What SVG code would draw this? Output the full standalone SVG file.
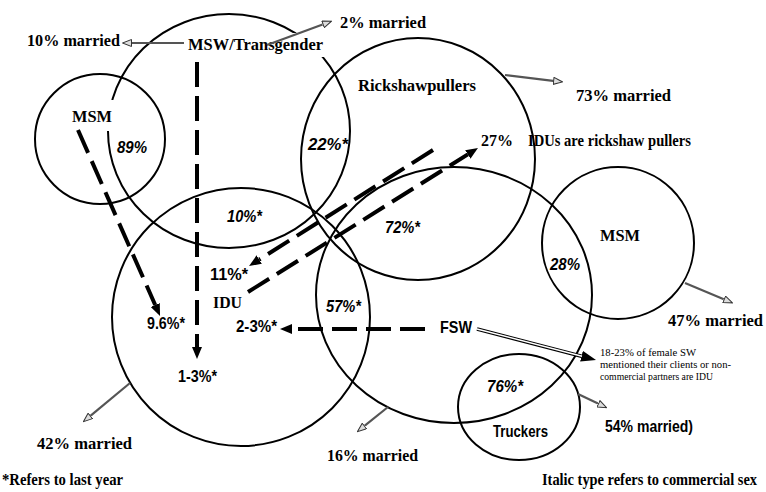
<svg xmlns="http://www.w3.org/2000/svg" width="766" height="492" viewBox="0 0 766 492">
<style>
.c{fill:none;stroke:#000;stroke-width:2}
.t{font-family:"Liberation Serif","Times New Roman",serif;font-weight:bold;font-size:16px;fill:#000}
.s{font-family:"Liberation Sans Narrow","Arial Narrow","Liberation Sans",Arial,sans-serif;font-weight:bold;font-size:17px;fill:#000}
.i{font-style:italic}
.n{font-family:"Liberation Serif","Times New Roman",serif;font-size:10.6px;fill:#000}
.d{fill:none;stroke:#000;stroke-width:4;stroke-dasharray:25 9}
.m{fill:none;stroke:#555;stroke-width:2.2}
.bg{fill:#fff}
</style>
<defs>
<marker id="solid" viewBox="0 0 12 10" refX="0" refY="5" markerWidth="12" markerHeight="10" markerUnits="userSpaceOnUse" orient="auto">
<path d="M0,0 L12,5 L0,10 z" fill="#000"/>
</marker>
<marker id="hollow" viewBox="0 0 10 8" refX="0" refY="4" markerWidth="10" markerHeight="8" markerUnits="userSpaceOnUse" orient="auto">
<path d="M0.5,0.5 L9.5,4 L0.5,7.5 z" fill="#ddd" stroke="#333" stroke-width="1"/>
</marker>
<marker id="fsw" viewBox="0 0 15 11" refX="0" refY="5.5" markerWidth="15" markerHeight="11" markerUnits="userSpaceOnUse" orient="auto">
<path d="M0,0 L15,5.5 L0,11 z" fill="#000"/>
</marker>
</defs>

<g id="node-msw">
<ellipse class="c" cx="229" cy="131" rx="121" ry="117"/>
<rect class="bg" x="186" y="33" width="141" height="24"/>
<text class="t" x="188" y="50" textLength="135" lengthAdjust="spacingAndGlyphs">MSW/Transgender</text>
</g>
<g id="node-msm-left">
<circle class="c" cx="100" cy="139" r="65"/>
<rect class="bg" x="70" y="100" width="46" height="31"/>
<text class="t" x="72" y="122" textLength="40" lengthAdjust="spacingAndGlyphs">MSM</text>
</g>
<g id="node-rickshaw">
<ellipse class="c" cx="418" cy="159" rx="117" ry="121"/>
<text class="t" x="358" y="91" textLength="118" lengthAdjust="spacingAndGlyphs">Rickshawpullers</text>
</g>
<g id="node-idu">
<circle class="c" cx="241" cy="317" r="129"/>
<text class="t" x="213" y="308" textLength="29" lengthAdjust="spacingAndGlyphs">IDU</text>
</g>
<g id="node-fsw">
<ellipse class="c" cx="454" cy="295" rx="138" ry="128"/>
<text class="s" x="440" y="333" textLength="32" lengthAdjust="spacingAndGlyphs">FSW</text>
</g>
<g id="node-msm-right">
<circle class="c" cx="618" cy="243" r="76"/>
<text class="t" x="600" y="241" textLength="40" lengthAdjust="spacingAndGlyphs">MSM</text>
</g>
<g id="node-truckers">
<ellipse class="c" cx="519" cy="407" rx="61" ry="53"/>
<text class="s" x="493" y="437" textLength="55" lengthAdjust="spacingAndGlyphs">Truckers</text>
</g>

<g id="connectors">
<line class="d" x1="78" y1="130" x2="155.2" y2="305" marker-end="url(#solid)"/>
<line class="d" x1="197" y1="62" x2="197" y2="347" marker-end="url(#solid)"/>
<line class="d" x1="433" y1="150" x2="259.2" y2="259.6" marker-end="url(#solid)"/>
<line class="d" x1="248" y1="292" x2="467.8" y2="154.4" marker-end="url(#solid)"/>
<line class="d" x1="425" y1="329" x2="292" y2="329" marker-end="url(#solid)"/>
<line class="m" x1="184" y1="43" x2="132" y2="43" marker-end="url(#hollow)"/>
<line class="m" x1="267" y1="45" x2="322.6" y2="24.5" marker-end="url(#hollow)"/>
<line class="m" x1="505" y1="75" x2="553.1" y2="80.8" marker-end="url(#hollow)"/>
<line class="m" x1="130" y1="383" x2="90.7" y2="415.6" marker-end="url(#hollow)"/>
<line class="m" x1="388" y1="407" x2="364.8" y2="425.7" marker-end="url(#hollow)"/>
<line class="m" x1="685" y1="283" x2="723.8" y2="299.2" marker-end="url(#hollow)"/>
<line class="m" x1="578" y1="394" x2="598" y2="403.6" marker-end="url(#hollow)"/>
<line x1="477" y1="329" x2="581.5" y2="356.2" stroke="#000" stroke-width="3.6" marker-end="url(#fsw)"/>
<line x1="477" y1="329" x2="582" y2="356.3" stroke="#fff" stroke-width="1.4"/>
</g>

<g id="labels">
<text class="t" x="27" y="46" textLength="93" lengthAdjust="spacingAndGlyphs">10% married</text>
<text class="t" x="340" y="28" textLength="86" lengthAdjust="spacingAndGlyphs">2% married</text>
<text class="t" x="576" y="101" textLength="95" lengthAdjust="spacingAndGlyphs">73% married</text>
<text class="t" x="481" y="146">27%</text>
<text class="t" x="528" y="146" font-size="14.6" textLength="163" lengthAdjust="spacingAndGlyphs">IDUs are rickshaw pullers</text>
<text class="t" x="37" y="449" textLength="95" lengthAdjust="spacingAndGlyphs">42% married</text>
<text class="t" x="327" y="461" textLength="91" lengthAdjust="spacingAndGlyphs">16% married</text>
<text class="t" x="668" y="326" textLength="95" lengthAdjust="spacingAndGlyphs">47% married</text>
<text class="s" x="605" y="432" textLength="88" lengthAdjust="spacingAndGlyphs">54% married)</text>
<text class="t" x="2" y="485" font-size="14.7" textLength="121" lengthAdjust="spacingAndGlyphs">*Refers to last year</text>
<text class="t" x="542" y="485" font-size="14.5" textLength="215" lengthAdjust="spacingAndGlyphs">Italic type refers to commercial sex</text>
<text class="n" x="600" y="356" textLength="96" lengthAdjust="spacingAndGlyphs">18-23% of female SW</text>
<text class="n" x="600" y="368" textLength="131" lengthAdjust="spacingAndGlyphs">mentioned their clients or non-</text>
<text class="n" x="600" y="380" textLength="113" lengthAdjust="spacingAndGlyphs">commercial partners are IDU</text>
<text class="s i" x="117" y="153" textLength="30" lengthAdjust="spacingAndGlyphs">89%</text>
<text class="s i" x="308" y="150" textLength="40" lengthAdjust="spacingAndGlyphs">22%*</text>
<text class="s i" x="227" y="222" textLength="35" lengthAdjust="spacingAndGlyphs">10%*</text>
<text class="s i" x="385" y="233" textLength="35" lengthAdjust="spacingAndGlyphs">72%*</text>
<text class="s" x="210" y="280" textLength="38" lengthAdjust="spacingAndGlyphs">11%*</text>
<text class="s" x="147" y="329" textLength="38" lengthAdjust="spacingAndGlyphs">9.6%*</text>
<text class="s" x="236" y="332" textLength="41" lengthAdjust="spacingAndGlyphs">2-3%*</text>
<text class="s" x="178" y="382" textLength="39" lengthAdjust="spacingAndGlyphs">1-3%*</text>
<text class="s i" x="326" y="312" textLength="35" lengthAdjust="spacingAndGlyphs">57%*</text>
<text class="s i" x="550" y="270" textLength="30" lengthAdjust="spacingAndGlyphs">28%</text>
<text class="s i" x="487" y="392" textLength="36" lengthAdjust="spacingAndGlyphs">76%*</text>
</g>
</svg>
